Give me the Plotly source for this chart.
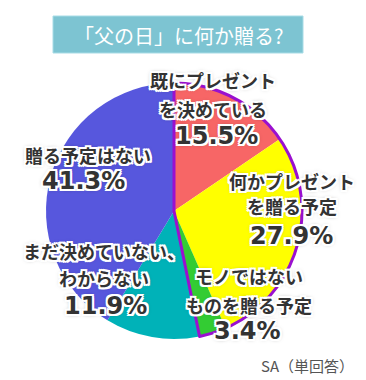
import plotly.graph_objects as go

# ---- data ----
labels = ["既にプレゼント<br>を決めている", "何かプレゼント<br>を贈る予定", "モノではない<br>ものを贈る予定",
          "まだ決めていない、<br>わからない", "贈る予定はない"]
values = [15.5, 27.9, 3.4, 11.9, 41.3]
colors = ["#F76666", "#FFFF00", "#33CC33", "#00B2B8", "#5757DD"]
group_values = [sum(values[:3]), sum(values[3:])]

title_text = "「父の日」に何か贈る?"
note_text = "SA（単回答）"

W, H = 366, 380
cx, cy, r = 166, 203, 128

dom = dict(x=[(cx - r) / W, (cx + r) / W], y=[1 - (cy + r) / H, 1 - (cy - r) / H])

fig = go.Figure()
fig.add_trace(go.Pie(
    values=values, labels=labels, sort=False, direction="clockwise", rotation=0,
    marker=dict(colors=colors, line=dict(width=0)),
    textinfo="none", hoverinfo="skip", domain=dom, showlegend=False,
))
fig.add_trace(go.Pie(
    values=group_values, labels=["g1", "g2"], sort=False, direction="clockwise", rotation=0,
    marker=dict(colors=["rgba(0,0,0,0)", "rgba(0,0,0,0)"],
                line=dict(width=[3, 0], color="#9A10D0")),
    textinfo="none", hoverinfo="skip", domain=dom, showlegend=False,
))

outline = ("2px 0 0 #fff, -2px 0 0 #fff, 0 2px 0 #fff, 0 -2px 0 #fff, "
           "2px 2px 0 #fff, -2px -2px 0 #fff, 2px -2px 0 #fff, -2px 2px 0 #fff, "
           "0 0 4px rgba(0,0,0,0.5)")
FONT = "Noto Sans CJK JP"

# label layout (pixels): x of text, y of each text line, x and y of percentage
label_pos = [
    (205, [72, 101], 208, 128),
    (284, [173, 198], 283, 228),
    (241, [268, 297], 240, 323),
    (96, [243, 270], 97, 298),
    (80, [147], 75, 173),
]

def ann(x, y, text, size, family):
    fig.add_annotation(x=x / W, y=1 - y / H, xref="paper", yref="paper", text=text,
                       showarrow=False, xanchor="center", yanchor="middle",
                       font=dict(family=family, size=size, color="#333333",
                                 weight="bold", shadow=outline))

for lab, val, (x, ys, px, py) in zip(labels, values, label_pos):
    for line, y in zip(lab.split("<br>"), ys):
        ann(x, y, line, 18, FONT)
    ann(px, py, f"{val}%", 24, "DejaVu Sans")

# title banner
fig.add_shape(type="rect", xref="paper", yref="paper",
              x0=45 / W, x1=295 / W, y0=1 - 45 / H, y1=1 - 8 / H,
              fillcolor="#7DC4D2", line=dict(width=1, color="#A8DCE6"), layer="below")
fig.add_annotation(x=170 / W, y=1 - 27 / H, xref="paper", yref="paper", text=title_text,
                   showarrow=False, xanchor="center", yanchor="middle",
                   font=dict(family=FONT, size=20, color="#FFFFFF"))

fig.add_annotation(x=348 / W, y=1 - 357 / H, xref="paper", yref="paper", text=note_text,
                   showarrow=False, xanchor="right", yanchor="middle",
                   font=dict(family=FONT, size=15, color="#555555"))

fig.update_layout(width=W, height=H, margin=dict(l=0, r=0, t=0, b=0),
                  paper_bgcolor="white", plot_bgcolor="white")

fig.write_html("out.html")
